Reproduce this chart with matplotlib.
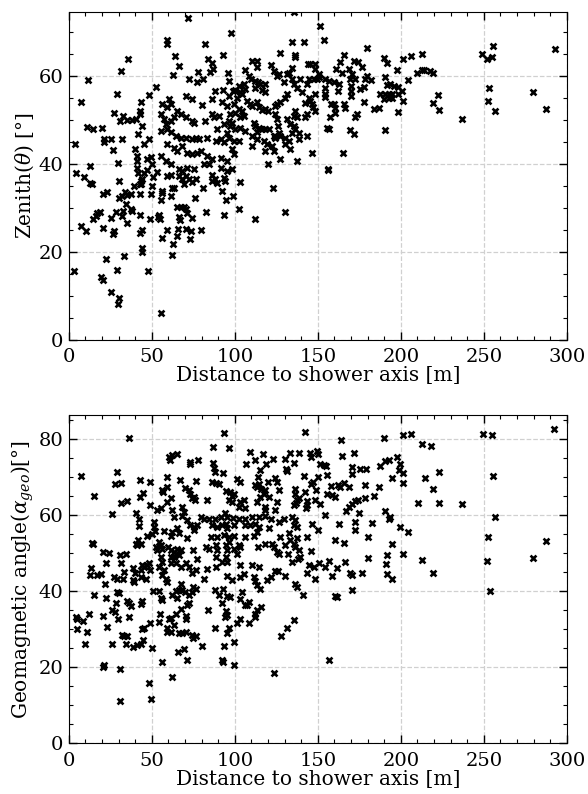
import numpy as np
import matplotlib
matplotlib.use("Agg")
import matplotlib.pyplot as plt
from matplotlib.ticker import MultipleLocator

plt.rcParams["font.family"] = "DejaVu Serif"
plt.rcParams["mathtext.fontset"] = "dejavuserif"

# (distance [m], zenith [deg])
zen_near = [
    (72.0, 73.2), (59.3, 68.3), (59.3, 67.3), (81.8, 67.2), (35.9, 64.0), (63.9, 64.5),
    (66.1, 62.4), (31.3, 61.2), (11.6, 59.2), (84, 63.9), (86, 62.9), (87, 61.6), (85, 61.0),
    (93.0, 64.8), (95.8, 60.6), (77.8, 61.0), (72.4, 59.3), (77.4, 58.6), (80.8, 59.3),
    (62.5, 60.2), (52.7, 57.6), (48.3, 55.7), (28.9, 56.0), (7.2, 54.0), (43.3, 54.0),
    (27.1, 51.7), (32.7, 51.0), (30.9, 49.7), (35.3, 49.9), (38.3, 49.9), (40.5, 50.2),
    (42.7, 52.0), (42.7, 51.4), (44.1, 48.7), (41.9, 46.8), (11.2, 48.4), (14.6, 47.9),
    (20.0, 48.1), (21.2, 45.8), (21.2, 45.0), (25.2, 45.6), (31.9, 45.6), (4.0, 44.5),
    (26.7, 43.1), (39.9, 43.3), (29.7, 40.3), (12.8, 39.5), (4.6, 37.9), (9.2, 37.1),
    (48.3, 45.6), (45.3, 44.5), (41.1, 41.9), (41.1, 40.7), (41.1, 39.2), (49.3, 41.5),
    (47.3, 41.1), (50.3, 39.9), (47.3, 38.7), (45.3, 37.9),
    (56.3, 53.6), (59.3, 52.9), (61.3, 53.6), (60.3, 54.8), (65.3, 52.1), (70.4, 55.5),
    (74.4, 54.8), (80.4, 53.4), (86.4, 54.8), (88.0, 56.6), (92.8, 56.8), (92.4, 54.0),
    (95.4, 53.2), (99.0, 56.6), (99.4, 53.6),
    (55.3, 51.3), (57.3, 50.2), (58.3, 49.0), (61.3, 49.8), (63.3, 50.6), (67.3, 51.3),
    (70.3, 50.6), (74.3, 49.8), (75.3, 49.4), (81.8, 49.8), (86.4, 51.3), (87.4, 50.6),
    (90.4, 50.9), (93.4, 49.0), (96.4, 49.8), (98.4, 49.4), (89.4, 47.9), (95.4, 47.1),
    (55.3, 47.5), (59.3, 47.9), (61.3, 47.2), (64.3, 46.4), (67.3, 46.0), (70.3, 46.0),
    (74.3, 45.6), (76.4, 46.0), (78.4, 45.6), (83.4, 46.0), (88.4, 45.3), (91.4, 45.6),
    (93.4, 44.9), (96.4, 46.0), (99.4, 45.3), (59.3, 44.5), (63.3, 43.7), (65.3, 43.0),
    (68.3, 44.1), (71.3, 42.6), (74.3, 42.2), (77.4, 42.6), (79.4, 43.0), (83.4, 41.8),
    (86.4, 41.1), (91.4, 41.4), (95.4, 40.7), (99.4, 42.2), (55.3, 41.8), (58.3, 40.7),
    (61.3, 39.9), (66.3, 38.8), (68.3, 38.4), (71.3, 39.2), (75.3, 38.8), (81.4, 39.9),
    (84.4, 39.9), (91.4, 39.2), (95.4, 38.4), (98.4, 38.8), (61.3, 37.6), (66.3, 37.3),
    (70.3, 37.3), (86.4, 37.6), (93.4, 36.9),
]

zen_low = [
    (12.8, 35.6), (14.2, 35.4), (20.8, 33.2), (22.8, 33.6),
    (30.3, 36.1), (33.7, 33.6), (35.3, 32.9), (37.3, 33.1), (32.3, 32.7), (30.3, 32.2),
    (39.3, 35.1), (42.7, 35.4), (43.3, 36.1), (43.9, 36.7), (41.7, 38.0),
    (34.3, 30.8), (38.3, 29.4), (37.7, 29.8), (32.9, 29.3), (28.3, 29.1), (25.3, 27.8),
    (18.8, 29.1), (16.8, 28.8), (14.8, 27.4), (16.2, 28.1), (31.9, 28.1), (34.9, 26.6),
    (20.8, 25.5), (7.6, 25.9), (10.2, 24.7), (27.3, 24.7), (26.9, 24.0), (42.9, 33.1),
    (43.3, 35.4), (42.9, 28.5), (43.9, 25.0), (42.9, 24.3), (43.9, 20.9), (43.9, 19.9),
    (48.9, 27.4), (49.3, 33.1), (50.3, 35.0), (50.9, 37.1), (53.3, 38.2),
    (55.3, 31.9), (55.9, 33.9), (56.3, 33.5), (54.3, 28.4), (54.7, 27.4), (53.9, 27.9),
    (58.9, 37.3), (61.9, 34.6), (63.3, 34.6), (61.3, 32.7),
    (68.3, 36.5), (72.3, 36.5), (69.3, 35.4), (74.3, 35.8),
    (76.4, 36.5), (75.8, 32.3), (65.3, 30.2), (67.3, 30.2), (69.3, 30.2), (70.9, 29.7),
    (71.3, 28.9), (66.3, 27.9), (66.9, 27.2), (74.3, 27.8), (59.3, 24.9), (56.3, 23.2),
    (62.5, 21.9), (62.3, 19.2), (65.9, 25.1), (65.3, 23.6), (70.9, 25.1), (73.7, 24.7),
    (73.3, 23.0), (79.8, 24.9), (82.4, 29.1), (81.0, 34.5), (87.8, 36.5),
    (89.4, 35.7), (86.4, 36.1), (94.0, 36.1), (92.0, 33.8),
    (94.8, 31.8), (99.0, 32.7), (93.4, 28.5), (22.2, 18.3), (3.2, 15.6), (28.9, 15.8),
    (33.3, 19.0), (19.6, 14.3), (20.6, 13.5), (25.3, 10.9), (30.3, 9.5), (29.7, 8.1),
    (47.7, 15.6), (55.3, 6.1),
    (103.4, 36.0), (102.4, 29.7), (123.1, 34.5), (112.4, 27.5), (130.1, 29.1), (156.1, 38.6),
]

zen_mid = [
    (135.5, 74.5), (98.0, 69.8), (151.3, 71.3), (153.9, 68.3), (134.5, 67.8), (141.9, 67.7),
    (127.5, 65.2), (136.1, 64.9), (136.5, 64.3), (179.8, 66.5), (165.5, 64.8), (163.5, 63.1),
    (160.9, 61.6), (164.5, 60.8), (171.6, 63.5), (174.2, 63.1), (176.6, 62.0), (168.9, 61.6),
    (170.6, 60.5), (172.2, 59.3), (169.6, 59.3), (189.6, 64.1), (191.6, 62.9), (197.6, 61.4),
    (179.6, 60.1), (182.2, 59.1), (178.6, 59.3), (190.2, 59.8), (191.6, 57.9), (193.6, 58.2),
    (195.6, 57.8), (198.6, 57.6), (187.6, 55.9), (190.6, 56.0), (192.6, 56.0), (194.6, 55.9),
    (189.6, 54.9), (192.6, 55.0), (194.6, 55.0), (175.6, 57.0), (177.6, 57.6), (170.2, 57.8),
    (170.2, 56.5), (170.2, 55.5), (162.5, 58.3), (162.1, 56.5), (154.5, 59.3), (154.1, 57.4),
    (154.1, 56.0), (154.5, 55.3), (156.9, 58.9), (159.5, 58.6), (177.6, 54.1), (184.0, 52.5),
    (187.0, 52.7), (198.6, 51.9), (158.1, 53.6), (159.5, 53.6), (160.5, 52.8), (160.5, 51.7),
    (165.5, 53.6), (166.1, 52.8), (173.6, 51.3), (172.2, 50.7), (157.1, 50.6), (155.5, 48.3),
    (156.5, 47.9), (169.6, 47.8), (171.6, 46.9), (190.2, 47.7), (165.1, 42.4), (146.5, 42.4),
    (156.1, 38.9), (137.5, 40.7), (127.5, 41.2), (120.1, 40.1),
    (110.4, 63.5), (113.4, 63.5), (113.4, 62.0), (121.9, 62.6), (123.5, 61.2), (126.5, 60.5),
    (125.5, 60.1), (106.4, 61.4), (96.4, 58.9), (134.5, 61.8), (131.5, 60.5),
    (132.5, 60.8), (129.5, 58.7), (144.1, 62.7), (145.5, 62.7), (148.1, 62.7), (148.5, 61.6),
    (150.5, 60.5), (139.5, 59.3), (144.5, 59.3), (147.5, 59.3), (149.5, 59.3), (150.9, 59.7),
    (134.5, 59.3), (135.5, 58.2), (143.5, 58.2), (108.4, 60.1), (110.0, 59.3), (112.4, 58.9),
    (114.0, 58.6), (115.4, 58.2), (118.4, 58.2), (112.0, 57.4), (116.4, 56.8), (118.4, 56.3),
    (102.4, 57.8), (105.4, 58.2), (106.4, 57.0), (104.4, 56.0), (100.4, 56.8), (101.4, 55.1),
    (103.4, 56.3), (96.4, 55.5), (137.5, 57.3), (140.5, 56.3), (131.5, 55.9),
    (130.5, 55.1), (127.5, 54.0), (125.5, 53.6), (124.5, 53.2), (142.5, 53.8), (145.5, 54.4),
    (146.5, 53.6), (146.9, 52.9), (148.5, 52.1), (144.5, 55.1), (148.5, 55.9), (107.4, 54.4),
    (109.4, 53.6), (110.4, 53.2), (113.4, 54.0), (114.4, 52.9), (116.4, 52.2), (118.4, 52.5),
    (120.1, 52.1), (102.4, 52.5), (104.4, 52.1), (105.4, 50.9), (103.4, 50.6), (100.4, 51.5),
    (97.4, 51.3), (136.5, 52.1), (135.5, 50.9), (137.5, 50.6),
    (142.5, 50.6), (143.5, 51.3), (131.5, 50.2), (124.5, 51.3), (125.5, 50.2), (126.1, 48.7),
    (126.5, 47.1), (124.5, 46.4), (133.5, 49.0), (135.5, 48.7), (136.5, 47.9), (138.5, 47.1),
    (134.5, 47.1), (111.4, 49.4), (112.4, 48.7), (114.4, 48.3), (116.4, 47.9), (118.4, 47.9),
    (120.4, 47.9), (113.4, 47.2), (97.4, 48.7), (100.4, 47.9), (103.4, 48.3),
    (106.4, 47.5), (123.5, 46.4), (124.5, 46.0), (127.5, 46.4), (130.5, 46.0), (132.5, 45.3),
    (138.5, 45.6), (143.5, 46.4), (110.4, 46.4), (113.4, 45.6), (117.4, 45.2), (119.5, 44.5),
    (110.4, 44.1), (118.4, 43.0), (123.5, 43.0), (122.5, 44.1), (102.4, 45.2), (98.4, 43.4),
    (130.5, 44.6), (133.5, 43.4),
]

zen_far = [
    (255.7, 66.9), (292.8, 66.2), (248.7, 65.0), (251.7, 64.0), (254.7, 64.3), (201.6, 63.9),
    (206.0, 64.6), (212.6, 65.0), (210.0, 60.7), (213.0, 61.4), (214.2, 61.4),
    (217.6, 61.1), (219.6, 60.6), (204.2, 59.1),
    (200.6, 56.5), (198.6, 55.9), (201.2, 54.4), (222.3, 55.8),
    (219.3, 53.8), (222.7, 52.2), (236.7, 50.3), (253.3, 57.3), (252.3, 54.4), (256.9, 52.0),
    (279.8, 56.4), (287.2, 52.5),
]

# (distance [m], geomagnetic angle [deg])
geo_near = [
    (36.3, 80.2), (93.4, 81.7), (7.6, 70.3), (15.2, 65.0), (29.3, 71.4), (27.7, 68.2),
    (31.7, 68.6), (31.3, 63.3), (35.3, 63.8), (25.9, 60.3), (42.7, 69.2), (48.9, 68.8),
    (42.9, 64.8), (44.7, 65.9), (48.9, 62.6), (40.7, 60.7), (42.5, 58.9), (42.3, 57.1),
    (60.3, 75.4), (60.7, 74.5), (62.3, 75.8), (65.0, 76.1), (73.0, 74.0), (73.0, 73.4),
    (78.0, 74.5), (86.8, 78.0), (96.4, 77.8), (87.0, 73.8), (87.4, 72.3), (87.8, 71.4),
    (93.0, 71.1), (59.3, 70.1), (66.7, 69.2), (76.8, 68.9), (58.9, 67.5), (56.3, 66.6),
    (56.9, 66.1), (61.3, 64.4), (59.3, 63.5), (55.3, 61.8), (53.3, 61.3), (69.7, 67.2),
    (72.3, 66.6), (73.3, 65.7), (75.3, 64.8), (76.3, 64.0), (74.3, 64.6), (83.4, 63.9),
    (86.4, 68.8), (88.4, 68.5), (90.4, 68.2), (94.8, 66.3), (99.4, 65.7), (96.4, 64.1),
    (67.9, 62.2), (69.3, 60.9), (68.3, 59.7), (63.3, 59.6), (61.9, 61.3), (79.4, 59.6),
    (81.4, 59.1), (84.4, 59.1), (88.0, 59.1), (91.4, 59.6), (94.0, 60.6), (98.8, 59.3),
    (71.3, 58.7), (73.3, 57.4), (75.3, 56.9), (77.4, 57.4), (75.3, 56.0), (86.4, 57.4),
    (89.4, 56.9), (92.4, 57.4), (94.4, 57.8), (95.4, 56.5), (99.4, 57.4), (51.3, 58.2),
    (51.3, 56.9), (51.7, 55.9), (50.3, 55.0), (47.3, 54.5), (57.3, 55.9), (62.3, 55.6),
    (65.3, 56.5), (66.3, 55.2), (61.3, 54.5), (71.3, 53.9), (85.4, 54.3), (89.4, 54.3),
    (93.4, 54.7), (96.4, 54.3), (99.4, 54.5), (41.9, 53.4), (40.3, 52.5), (41.3, 52.1),
    (43.3, 52.5), (13.8, 52.7), (14.6, 52.5), (54.3, 53.0), (52.3, 51.7), (53.3, 50.8),
    (55.3, 52.1), (56.3, 51.0), (59.7, 51.7), (61.3, 50.8), (63.3, 50.4), (64.3, 49.9),
    (63.3, 49.0), (65.3, 51.2), (66.3, 49.5), (61.3, 49.0), (67.3, 50.8), (75.0, 50.8),
    (77.4, 48.6), (82.4, 51.7), (84.4, 51.2), (88.4, 52.1), (89.4, 50.8), (88.4, 49.0),
    (94.4, 52.1), (95.0, 50.8), (94.4, 49.0), (99.4, 51.0), (20.8, 50.4), (24.3, 50.1),
    (30.9, 49.5), (34.7, 49.8), (22.2, 47.5), (31.3, 47.3), (13.2, 46.2), (12.6, 44.2),
    (16.8, 44.2), (19.2, 44.4), (27.3, 43.8), (33.3, 45.1), (29.3, 43.3), (38.9, 46.0),
    (39.7, 44.7), (43.9, 47.0), (43.3, 45.7), (45.3, 46.4), (47.3, 46.9), (48.9, 45.5),
    (48.3, 47.3), (46.3, 43.3), (55.3, 49.0), (56.3, 47.7), (54.3, 46.4), (57.3, 45.5),
    (56.3, 44.2), (58.3, 43.3), (61.3, 47.3), (64.3, 47.3), (67.3, 46.4), (70.3, 47.3),
    (72.3, 46.4), (74.3, 44.8), (76.4, 45.5), (81.4, 43.3), (83.4, 45.9), (88.4, 46.4),
    (92.4, 47.7), (95.4, 47.7), (98.4, 42.9),
]

geo_low = [
    (32.9, 43.2), (38.9, 42.9), (39.3, 42.3), (43.3, 43.8), (21.6, 41.8), (15.2, 38.9),
    (22.2, 38.2), (28.9, 39.8), (30.3, 39.4), (28.3, 36.8), (34.9, 37.4), (37.3, 36.1),
    (36.3, 36.8), (44.3, 37.4), (43.3, 36.5), (4.2, 33.2), (4.8, 32.8), (8.8, 32.2),
    (12.2, 34.1), (20.8, 33.5), (26.3, 35.0), (27.7, 34.4), (29.7, 32.6), (36.3, 33.1),
    (5.2, 30.0), (10.8, 29.3), (23.3, 30.6), (9.6, 26.2), (26.3, 26.1), (32.3, 28.6),
    (33.3, 28.2), (34.9, 28.2), (34.3, 26.1), (38.9, 25.3), (41.3, 25.8), (43.3, 26.2),
    (44.9, 27.1), (45.3, 30.3), (44.3, 30.0), (48.9, 31.5), (49.9, 25.1), (20.6, 20.1),
    (21.2, 20.5), (30.7, 19.4), (30.9, 11.1), (48.3, 15.9), (49.7, 11.5), (50.9, 40.1),
    (54.3, 40.1), (55.3, 38.1), (56.3, 37.6), (59.3, 42.5),
    (62.3, 38.9), (64.3, 40.1), (66.3, 40.3), (68.3, 40.3), (67.7, 41.8), (65.3, 38.1),
    (69.7, 39.8), (72.3, 38.9), (74.3, 39.8), (74.9, 41.1), (76.4, 40.7), (71.3, 36.3),
    (72.3, 36.8), (67.3, 35.4), (54.9, 33.9), (54.3, 31.9), (60.3, 32.8), (61.3, 33.0),
    (64.3, 34.0), (70.3, 33.5), (70.9, 32.8), (59.3, 30.2), (59.3, 29.3), (61.3, 29.3),
    (63.3, 31.0), (66.3, 29.1), (68.3, 28.9), (70.3, 29.3), (74.3, 28.4), (76.4, 28.2),
    (75.0, 27.7), (66.0, 24.0), (69.3, 24.9), (71.0, 22.0), (80.4, 25.6), (62.0, 17.5),
    (56.3, 21.4), (87.8, 40.3), (90.4, 38.9), (93.0, 40.7), (95.4, 38.8),
    (97.4, 38.5), (92.0, 37.0), (94.8, 34.7), (94.0, 33.2), (95.4, 33.7), (88.0, 30.2),
    (96.4, 30.2), (95.4, 29.1), (99.4, 26.7), (93.4, 25.6), (83.8, 35.0), (92.4, 21.9),
    (93.0, 21.4), (99.4, 20.5),
    (121.5, 43.8), (103.4, 37.9), (104.4, 39.8), (106.4, 36.3),
    (108.4, 37.2), (107.4, 36.3), (115.4, 40.7), (113.4, 35.0), (112.0, 34.1), (112.0, 33.2),
    (116.0, 35.9), (137.5, 41.1), (140.9, 38.9), (160.5, 38.8), (161.5, 38.5), (170.6, 40.3),
    (103.4, 32.8), (101.4, 31.5), (108.4, 31.7), (135.5, 32.4),
    (131.5, 30.2), (128.1, 28.2), (123.5, 18.5), (156.5, 21.8), (253.7, 40.1),
]

geo_mid = [
    (142.1, 81.9), (164.1, 79.9), (189.8, 80.4), (109.4, 76.7), (116.8, 76.1),
    (112.4, 74.5), (106.8, 73.6), (115.4, 71.8), (118.9, 73.4), (122.9, 74.7), (130.5, 74.9),
    (133.5, 76.4), (138.9, 76.4), (135.5, 73.8), (131.1, 72.1), (131.5, 71.6), (145.5, 76.4),
    (149.5, 76.9), (150.1, 76.1), (146.1, 75.4), (151.5, 73.6), (153.5, 73.3), (154.9, 72.9),
    (164.5, 75.5), (171.9, 76.4), (170.6, 72.7), (175.6, 72.1), (179.0, 72.1), (170.6, 70.8),
    (187.6, 72.9), (190.6, 74.3), (192.6, 74.5),
    (155.5, 70.5), (141.5, 70.3), (150.1, 70.1), (101.4, 69.4), (103.4, 68.8), (114.0, 70.1),
    (114.4, 68.3), (112.4, 67.9), (113.4, 67.5), (116.0, 67.0), (118.0, 66.6), (120.1, 68.8),
    (117.4, 65.7), (124.5, 69.7), (125.5, 68.8), (126.9, 66.6), (115.4, 64.8), (120.4, 64.8),
    (146.1, 68.2), (146.9, 68.8), (148.9, 66.6), (142.5, 66.1), (136.1, 66.8), (136.5, 65.7),
    (138.5, 64.6), (137.5, 64.1), (157.9, 67.6), (161.9, 67.9), (163.5, 67.3), (165.9, 68.5),
    (168.9, 67.5), (178.2, 67.9), (187.0, 67.5), (155.5, 65.5), (158.5, 65.3), (160.5, 64.7),
    (97.4, 66.1), (98.4, 65.0), (98.4, 63.5),
    (103.4, 63.5), (105.4, 63.9), (113.4, 63.5), (125.5, 63.5), (143.5, 63.8), (148.5, 64.1),
    (143.5, 62.6), (142.9, 61.8), (136.9, 63.1), (135.5, 62.6), (151.5, 62.9), (102.4, 62.2),
    (106.4, 61.8), (118.4, 62.2), (118.0, 61.3), (124.5, 61.3), (174.2, 64.1), (172.6, 63.8),
    (170.6, 62.9), (168.9, 62.2), (166.9, 61.1), (174.6, 60.6), (178.2, 64.6), (183.6, 65.0),
    (190.6, 61.1), (192.6, 59.1), (154.1, 60.0), (95.4, 59.6),
    (102.4, 59.1), (106.4, 59.1), (110.4, 59.4), (114.4, 59.6), (118.4, 59.7), (121.5, 59.1),
    (129.5, 58.9), (134.5, 59.6), (136.5, 58.7), (106.4, 57.4),
    (109.4, 57.4), (112.4, 57.8), (114.4, 56.9), (113.4, 55.6), (120.4, 56.5), (126.5, 58.2),
    (135.5, 57.4), (137.5, 56.8), (146.5, 57.6), (150.1, 56.2), (162.5, 57.8), (172.2, 58.2),
    (172.6, 56.1), (182.6, 58.0), (96.4, 53.0), (106.4, 54.3), (111.4, 54.5),
    (118.4, 52.5), (122.5, 52.5), (127.5, 54.3), (132.5, 55.4), (137.5, 54.1), (143.5, 54.3),
    (133.5, 53.4), (130.5, 52.1), (135.5, 52.5), (136.5, 51.7), (160.5, 53.4), (165.5, 52.7),
    (180.2, 54.3), (102.4, 52.1), (103.4, 51.5), (101.4, 49.9),
    (114.0, 51.5), (123.5, 51.7), (125.5, 50.4), (126.5, 49.9), (132.1, 49.9), (138.5, 50.8),
    (146.1, 50.6), (139.5, 49.0), (138.1, 48.6), (191.6, 49.5), (180.2, 48.8),
    (103.4, 46.9), (110.4, 46.9), (114.4, 46.4), (134.5, 47.7), (144.5, 46.9),
    (147.5, 46.4), (150.5, 47.3), (154.5, 46.4), (156.5, 48.0), (161.5, 46.0), (166.5, 47.7),
    (169.6, 44.8), (170.6, 44.2), (176.6, 44.8), (105.4, 44.6), (103.4, 43.8), (95.4, 44.0),
    (111.4, 43.8), (112.4, 42.7), (119.4, 42.9), (124.5, 45.3), (126.1, 45.3), (130.5, 44.0),
    (143.5, 44.8), (148.1, 43.1), (158.5, 44.0), (191.2, 47.1), (191.6, 44.6), (136.5, 41.9),
    (113.4, 41.6),
]

geo_far = [
    (292.4, 82.6), (201.6, 81.1), (206.0, 81.5), (249.3, 81.5), (254.7, 81.2), (213.0, 78.7),
    (218.0, 78.3), (198.0, 75.4), (199.6, 73.4), (198.8, 72.0), (201.2, 71.1), (194.6, 69.7),
    (201.2, 68.5), (222.7, 71.4), (214.6, 69.8), (219.3, 66.8), (255.7, 70.4), (210.2, 63.1),
    (222.7, 63.1), (236.7, 62.9), (257.0, 59.6), (193.6, 59.4), (199.6, 56.8), (204.6, 55.6),
    (194.6, 52.3), (201.2, 49.9), (252.3, 54.2), (287.2, 53.3), (251.7, 48.0), (279.8, 48.8),
    (212.6, 48.1), (219.6, 44.7), (194.6, 43.2),
]

zen = np.array(zen_near + zen_low + zen_mid + zen_far)
geo = np.array(geo_near + geo_low + geo_mid + geo_far)

fig = plt.figure(figsize=(5.88, 7.94), dpi=100)
ax1 = fig.add_axes([0.117, 0.572, 0.847, 0.413])
ax2 = fig.add_axes([0.117, 0.064, 0.847, 0.413])

for ax, pts, ylab, ytop in ((ax1, zen, r'Zenith($\theta$) [°]', 74.6),
                            (ax2, geo, r'Geomagnetic angle($\alpha_{geo}$)[°]', 86.3)):
    ax.scatter(pts[:, 0], pts[:, 1], marker='x', s=18, linewidths=1.9, color='k', zorder=3)
    ax.set_xlim(0, 300)
    ax.set_ylim(0, ytop)
    ax.xaxis.set_major_locator(MultipleLocator(50))
    ax.xaxis.set_minor_locator(MultipleLocator(10))
    ax.yaxis.set_major_locator(MultipleLocator(20))
    ax.yaxis.set_minor_locator(MultipleLocator(5))
    ax.tick_params(which='both', direction='in', top=True, right=True, labelsize=14)
    ax.tick_params(which='major', length=6, width=1)
    ax.tick_params(which='minor', length=3, width=0.8)
    ax.tick_params(axis='x', which='major', pad=6)
    ax.tick_params(axis='y', which='major', pad=4)
    ax.grid(True, which='major', ls='--', color='#d0d0d0', lw=0.9)
    ax.set_axisbelow(True)
    ax.set_xlabel('Distance to shower axis [m]', fontsize=14.5, labelpad=0)
    ax.set_ylabel(ylab, fontsize=14.5, labelpad=2)

fig.savefig('out.png', dpi=100)
